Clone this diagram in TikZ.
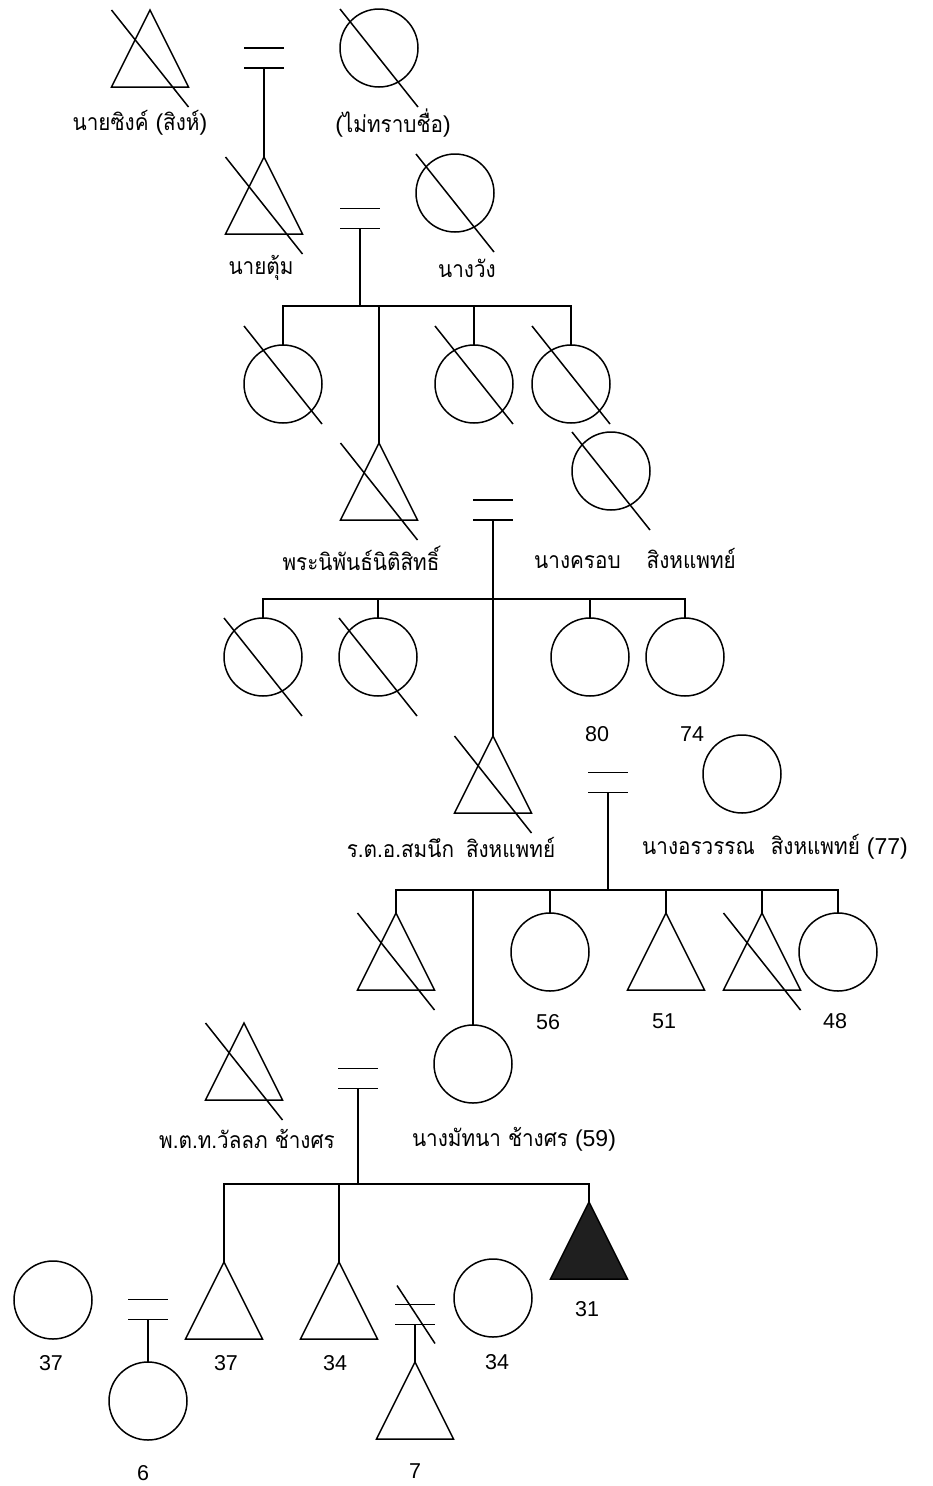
\documentclass[tikz,border=0pt]{standalone}
\usepackage{fontspec}
\setmainfont{Liberation Sans}
\newfontfamily\thai[Script=Thai,FakeStretch=0.9]{Loma}
\usetikzlibrary{calc}

\tikzset{
  manbox/.style={rectangle,minimum width=77pt,minimum height=77pt,inner sep=0pt,outer sep=0pt},
  woman/.style={circle,draw,minimum size=78pt,inner sep=0pt,outer sep=0pt},
  wedbox/.style={rectangle,minimum width=40pt,minimum height=20pt,inner sep=0pt,outer sep=0pt},
  thaitext/.style={font=\fontsize{23}{26}\selectfont\thai,inner sep=0pt},
  agetext/.style={font=\fontsize{21.5}{24}\selectfont,inner sep=0pt}
}
\newcommand\manat[3][]{\node[manbox] (#2) at (#3) {};
  \draw[#1] (#2.north) -- (#2.south west) -- (#2.south east) -- cycle;}
\newcommand\wedat[2]{\node[wedbox] (#1) at (#2) {};
  \draw (#1.north west) -- (#1.north east) (#1.south west) -- (#1.south east);}
\newcommand\deadman[1]{\draw (#1.north west) -- ($(#1.south east)+(0,20)$);}
\newcommand\deadwoman[2][0]{\draw ($(#2)+(-39,-39+#1)$) -- ($(#2)+(39,59+#1)$);}

\begin{document}
\begin{tikzpicture}[x=1pt,y=-1pt,line width=1.5pt]
\useasboundingbox (0,0) rectangle (933,1486);

\manat{singh}{150,48.5}
\deadman{singh}
\node[woman] (unknown) at (379,48) {};
\deadwoman{unknown}
\wedat{w1}{264,58}
\node[thaitext] (lsingh) at (140,123) {นายซิงค์ {\rmfamily(}สิงห์{\rmfamily)}};
\node[thaitext] (lunknown) at (393,123) {{\rmfamily(}ไม่ทราบชื่อ{\rmfamily)}};

\manat{tum}{264,195.5}
\deadman{tum}
\node[woman] (wang) at (455,193) {};
\deadwoman{wang}
\wedat{w2}{360,218.5}
\node[thaitext] (ltum) at (261,268) {นายตุ้ม};
\node[thaitext] (lwang) at (467,268) {นางวัง};
\draw (w1.south) -- (tum.north);

\node[woman] (sis1) at (283,384) {};
\deadwoman[-19]{sis1}
\manat{nipan}{379,481.5}
\deadman{nipan}
\node[woman] (sis2) at (474,384) {};
\deadwoman[-19]{sis2}
\node[woman] (sis3) at (571,384) {};
\deadwoman[-19]{sis3}
\coordinate (bar2) at (360,306);
\draw (w2.south) -- (bar2);
\draw (sis1.north) -- (sis1.north |- bar2) -- (sis3.north |- bar2) -- (sis3.north);
\draw (sis2.north) -- (sis2.north |- bar2);
\draw (nipan.north) -- (nipan.north |- bar2);

\node[woman] (krob) at (611,471) {};
\deadwoman{krob}
\wedat{w3}{493,510}
\node[thaitext] (lnipan) at (361,558) {พระนิพันธ์นิติสิทธิ์};
\node[thaitext] (lkrob) at (635,558) {นางครอบ\hspace{26pt}สิงหแพทย์};

\node[woman] (aunt1) at (263,657) {};
\deadwoman{aunt1}
\node[woman] (aunt2) at (378,657) {};
\deadwoman{aunt2}
\node[woman] (aunt3) at (590,657) {};
\node[woman] (aunt4) at (685,657) {};
\node[agetext] (age80) at (597,734) {80};
\node[agetext] (age74) at (692,734) {74};
\manat{somnuek}{493,774.5}
\deadman{somnuek}
\coordinate (bar3) at (493,599);
\draw (w3.south) -- (somnuek.north);
\draw (aunt1.north) -- (aunt1.north |- bar3) -- (aunt4.north |- bar3) -- (aunt4.north);
\draw (aunt2.north) -- (aunt2.north |- bar3);
\draw (aunt3.north) -- (aunt3.north |- bar3);

\node[woman] (orawan) at (742,774) {};
\wedat{w4}{608,782.5}
\node[thaitext] (lsomnuek) at (451,847) {ร.ต.อ.สมนึก\hspace{12pt}สิงหแพทย์};
\node[thaitext] (lorawan) at (775,847) {นางอรวรรณ\hspace{16pt}สิงหแพทย์ {\rmfamily(77)}};

\manat{kid1}{396,951.5}
\deadman{kid1}
\node[woman] (mattana) at (473,1064) {};
\node[woman] (kid3) at (550,952) {};
\manat{kid4}{666,951.5}
\manat{kid5}{762,951.5}
\deadman{kid5}
\node[woman] (kid6) at (838,952) {};
\node[agetext] (age56) at (548,1022) {56};
\node[agetext] (age51) at (664,1021) {51};
\node[agetext] (age48) at (835,1021) {48};
\coordinate (bar4) at (608,890);
\draw (w4.south) -- (bar4);
\draw (kid1.north) -- (kid1.north |- bar4) -- (kid6.north |- bar4) -- (kid6.north);
\draw (mattana.north) -- (mattana.north |- bar4);
\draw (kid3.north) -- (kid3.north |- bar4);
\draw (kid4.north) -- (kid4.north |- bar4);
\draw (kid5.north) -- (kid5.north |- bar4);

\manat{wanlop}{244,1061.5}
\deadman{wanlop}
\wedat{w5}{358,1078.5}
\node[thaitext] (lwanlop) at (247,1139) {พ.ต.ท.วัลลภ ช้างศร};
\node[thaitext] (lmattana) at (514,1139) {นางมัทนา ช้างศร {\rmfamily(59)}};

\node[woman] (dil1) at (53,1300) {};
\wedat{w6}{148,1309.5}
\node[woman] (grand1) at (148,1401) {};
\manat{son1}{224,1300.5}
\manat{son2}{339,1300.5}
\wedat{w7}{415,1314.5}
\draw ($(w7.north west)+(2,-19)$) -- ($(w7.south east)+(0,19)$);
\node[woman] (dil2) at (493,1298) {};
\manat{grand2}{415,1400.5}
\manat[fill=black!88]{son3}{589,1240.5}
\coordinate (bar5) at (358,1184);
\draw (w5.south) -- (bar5);
\draw (son1.north) -- (son1.north |- bar5) -- (son3.north |- bar5) -- (son3.north);
\draw (son2.north) -- (son2.north |- bar5);
\draw (w6.south) -- (grand1.north);
\draw (w7.south) -- (grand2.north);
\node[agetext] (age37a) at (51,1363) {37};
\node[agetext] (age37b) at (226,1363) {37};
\node[agetext] (age34a) at (335,1363) {34};
\node[agetext] (age34b) at (497,1362) {34};
\node[agetext] (age31) at (587,1309) {31};
\node[agetext] (age6) at (143,1473) {6};
\node[agetext] (age7) at (415,1471) {7};
\end{tikzpicture}
\end{document}
